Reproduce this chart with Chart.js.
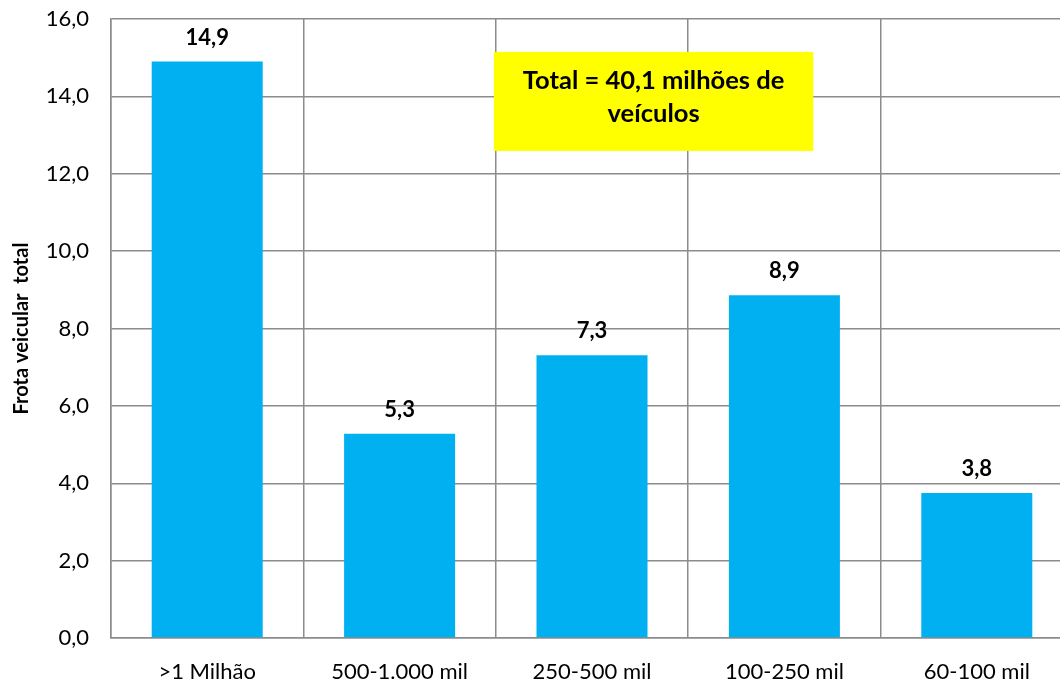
<!DOCTYPE html>
<html><head><meta charset="utf-8">
<script src="https://cdn.jsdelivr.net/npm/chart.js@4/dist/chart.umd.min.js"></script>
<style>html,body{margin:0;padding:0;overflow:hidden;background:#fff}#wrap{width:1080px;height:683px;position:relative}</style>
</head><body><div id="wrap"><canvas id="c"></canvas></div>
<script>
const categories = [">1 Milhão", "500-1.000 mil", "250-500 mil", "100-250 mil", "60-100 mil"];
const values = [14.9, 5.28, 7.31, 8.86, 3.75];
const yTitle = "Frota veicular  total";
const boxLines = ["Total = 40,1 milhões de", "veículos"];
const FONT = "Lato, 'Open Sans', sans-serif";
const fmt = v => v.toFixed(1).replace('.', ',');

const labelsPlugin = {
  id: 'labels',
  afterDatasetsDraw(chart) {
    const ctx = chart.ctx;
    const meta = chart.getDatasetMeta(0);
    ctx.save();
    ctx.font = "bold 22px " + FONT;
    ctx.fillStyle = "#000";
    ctx.textAlign = "center";
    ctx.textBaseline = "alphabetic";
    meta.data.forEach((bar, i) => {
      ctx.fillText(fmt(values[i]), bar.x, bar.y - 17);
    });
    const xs = chart.scales.x, ys = chart.scales.y;
    const x0 = xs.getPixelForValue(1.49), x1 = xs.getPixelForValue(3.15);
    const y0 = ys.getPixelForValue(15.15), y1 = ys.getPixelForValue(12.59);
    ctx.fillStyle = "#ffff00";
    ctx.fillRect(x0, y0, x1 - x0, y1 - y0);
    ctx.fillStyle = "#000";
    ctx.font = "bold 25.5px " + FONT;
    const cx = (x0 + x1) / 2;
    ctx.fillText(boxLines[0], cx, y0 + 37);
    ctx.fillText(boxLines[1], cx, y0 + 70);
    ctx.restore();
  }
};

new Chart(document.getElementById('c'), {
  type: 'bar',
  data: { labels: categories, datasets: [{ data: values, backgroundColor: '#00b0f0', barPercentage: 0.577, categoryPercentage: 1 }] },
  options: {
    responsive: true, maintainAspectRatio: false, animation: false,
    layout: { padding: { top: 19, right: 7, left: 0, bottom: 0 } },
    plugins: { legend: { display: false }, tooltip: { enabled: false } },
    scales: {
      x: {
        grid: { color: '#8c8c8c', lineWidth: 1.5, offset: true, drawTicks: false },
        border: { color: '#8c8c8c', width: 1.5 },
        ticks: { color: '#000', font: { family: FONT, size: 22 }, padding: 21, maxRotation: 0 },
        afterFit(s) { s.height = 45; s.paddingLeft = 0; s.paddingRight = 0; }
      },
      y: {
        min: 0, max: 16,
        grid: { color: '#8c8c8c', lineWidth: 1.5, drawTicks: false },
        border: { color: '#8c8c8c', width: 1.5 },
        ticks: { stepSize: 2, color: '#000', font: { family: FONT, size: 22 }, padding: 22, callback: v => fmt(v) },
        title: { display: true, text: yTitle, color: '#000', font: { family: FONT, size: 20, weight: 'bold' }, padding: { top: 10, bottom: 0 } },
        afterFit(s) { s.width = 111; s.paddingTop = 0; s.paddingBottom = 0; }
      }
    }
  },
  plugins: [labelsPlugin]
});
</script></body></html>
